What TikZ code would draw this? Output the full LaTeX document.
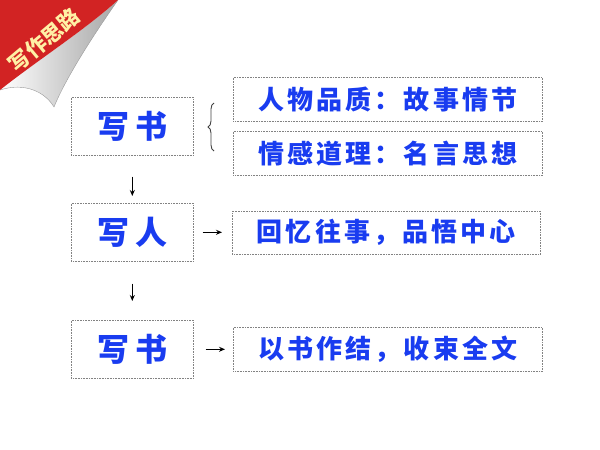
\documentclass[tikz,border=0pt]{standalone}
\usepackage{fontspec}
\newfontfamily\cjk{Noto Sans CJK SC}[LetterSpace=12]
\newfontfamily\cjkbig{Noto Sans CJK SC}[LetterSpace=20]
\newfontfamily\cjkban{Noto Sans CJK SC}
\usetikzlibrary{decorations.pathreplacing,arrows.meta}
\definecolor{txtblue}{RGB}{25,60,240}
\definecolor{banred}{RGB}{210,35,35}
\definecolor{banyel}{RGB}{255,240,165}
\definecolor{dotgray}{RGB}{130,130,130}
\begin{document}
\begin{tikzpicture}[x=1pt,y=-1pt,
  dotbox/.style={draw=dotgray,line width=0.6pt,dash pattern=on 0.8pt off 0.8pt,inner sep=0pt,anchor=north west},
  bigtxt/.style={text=txtblue,font=\cjkbig\bfseries\fontsize{32}{32}\selectfont},
  smtxt/.style={text=txtblue,font=\cjk\bfseries\fontsize{26}{26}\selectfont},
  arr/.style={-{Stealth[length=6pt,width=5pt]},line width=1.3pt,black}]
\useasboundingbox (0,0) rectangle (600,450);
% corner banner
\shade[left color=white,right color=black!35]
  (118,0) .. controls (90,40) and (65,80) .. (54,107)
  .. controls (45,92) and (25,82) .. (0,90)
  .. controls (35,62) and (85,30) .. (118,0) -- cycle;
\draw[black!40,line width=0.4pt] (118,0) .. controls (90,40) and (65,80) .. (54,107)
  .. controls (45,92) and (25,82) .. (0,90);
\fill[banred] (0,0) -- (118,0) .. controls (85,30) and (35,62) .. (0,90) -- cycle;
\node[rotate=40,text=banyel,font=\cjkban\bfseries\fontsize{21}{21}\selectfont] (ban) at (44,40) {写作思路};
% boxes
\node[dotbox,minimum width=122pt,minimum height=58pt] (b1) at (71,97) {};
\node[bigtxt] (t1) at (b1.center) {写书};
\node[dotbox,minimum width=309pt,minimum height=44pt] (ba) at (233,77) {};
\node[smtxt] (ta) at (ba.center) {人物品质：故事情节};
\node[dotbox,minimum width=309pt,minimum height=44pt] (bb) at (233,131) {};
\node[smtxt] (tb) at (bb.center) {情感道理：名言思想};
\node[dotbox,minimum width=122pt,minimum height=58pt] (b2) at (71,203) {};
\node[bigtxt] (t2) at (b2.center) {写人};
\node[dotbox,minimum width=308pt,minimum height=43pt] (bc) at (232,211) {};
\node[smtxt] (tc) at (bc.center) {回忆往事，品悟中心};
\node[dotbox,minimum width=122pt,minimum height=58pt] (b3) at (71,320) {};
\node[bigtxt] (t3) at (b3.center) {写书};
\node[dotbox,minimum width=309pt,minimum height=44pt] (bd) at (233,327) {};
\node[smtxt] (td) at (bd.center) {以书作结，收束全文};
% brace
\coordinate (brb) at (214,151);
\coordinate (brt) at (214,103);
\draw[black!75,line width=0.9pt,decorate,decoration={brace,amplitude=6pt}] (brb) -- (brt);
% arrows
\draw[arr,shorten <=21pt,shorten >=7pt] (b1.south) -- (b2.north);
\draw[arr,shorten <=22pt,shorten >=19pt] (b2.south) -- (b3.north);
\draw[arr,shorten <=9pt,shorten >=10pt] (b2.east) -- (bc.west |- b2.east);
\draw[arr,shorten <=12pt,shorten >=8pt] (b3.east) -- (bd.west |- b3.east);
\end{tikzpicture}
\end{document}
